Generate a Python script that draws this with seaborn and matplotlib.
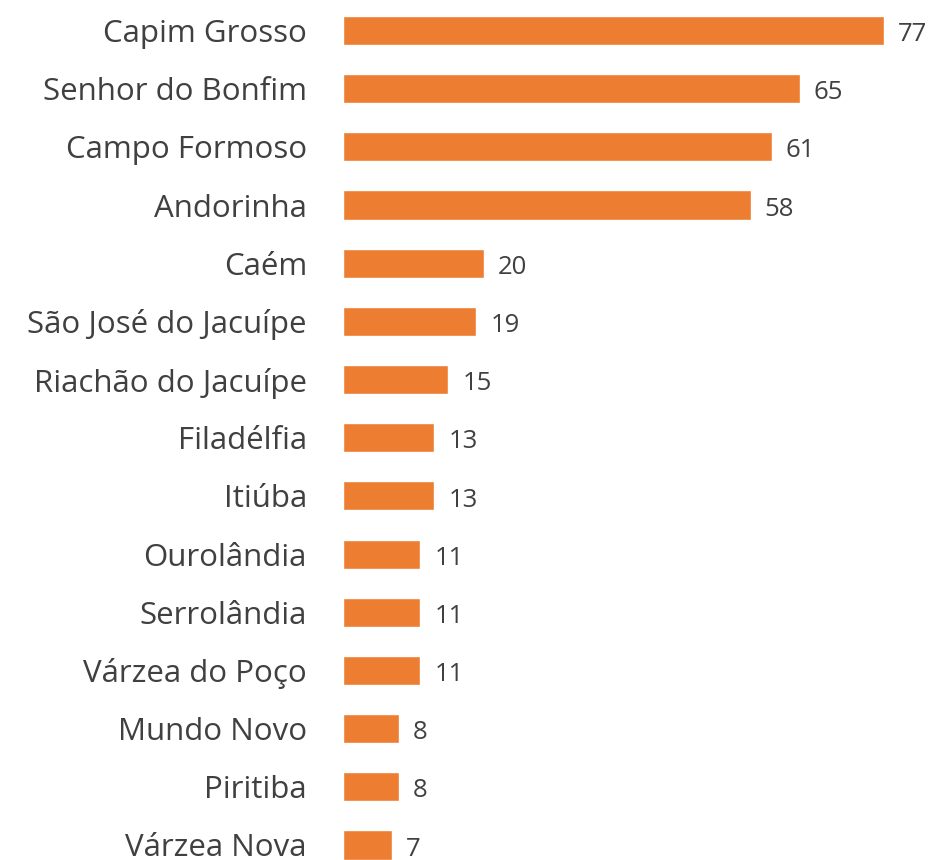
import matplotlib
matplotlib.use("Agg")
import matplotlib.pyplot as plt
import seaborn as sns
import pandas as pd

municipios = [
    "Capim Grosso", "Senhor do Bonfim", "Campo Formoso", "Andorinha", "Caém",
    "São José do Jacuípe", "Riachão do Jacuípe", "Filadélfia", "Itiúba",
    "Ourolândia", "Serrolândia", "Várzea do Poço", "Mundo Novo", "Piritiba",
    "Várzea Nova",
]
valores = [77, 65, 61, 58, 20, 19, 15, 13, 13, 11, 11, 11, 8, 8, 7]

df = pd.DataFrame({"municipio": municipios, "valor": valores})

sns.set_theme(style="white")
plt.rcParams["font.family"] = ["Open Sans", "DejaVu Sans"]

fig = plt.figure(figsize=(9.3, 8.6), dpi=100)
ax = fig.add_axes([343 / 930, 0.0, 587 / 930, 1.0])

bar_color = "#ED7D31"
sns.barplot(data=df, y="municipio", x="valor", orient="h", color=bar_color,
            width=0.5, saturation=1, ax=ax)

px_per_unit = 541 / 77
ax.set_xlim(0, 587 / px_per_unit)
spacing = (845 - 30.5) / 14
ax.set_ylim((860 - 30.5) / spacing, -30.5 / spacing)

for i, v in enumerate(valores):
    ax.text(v + 14 / px_per_unit, i + 0.07, str(v), va="center", ha="left",
            fontsize=18.5, color="#404040", clip_on=False)

ax.set_xlabel("")
ax.set_ylabel("")
ax.set_xticks([])
ax.tick_params(axis="y", length=0, pad=26, labelsize=22.5, labelcolor="#404040")
for s in ax.spines.values():
    s.set_visible(False)

fig.savefig("out.png", dpi=100)
